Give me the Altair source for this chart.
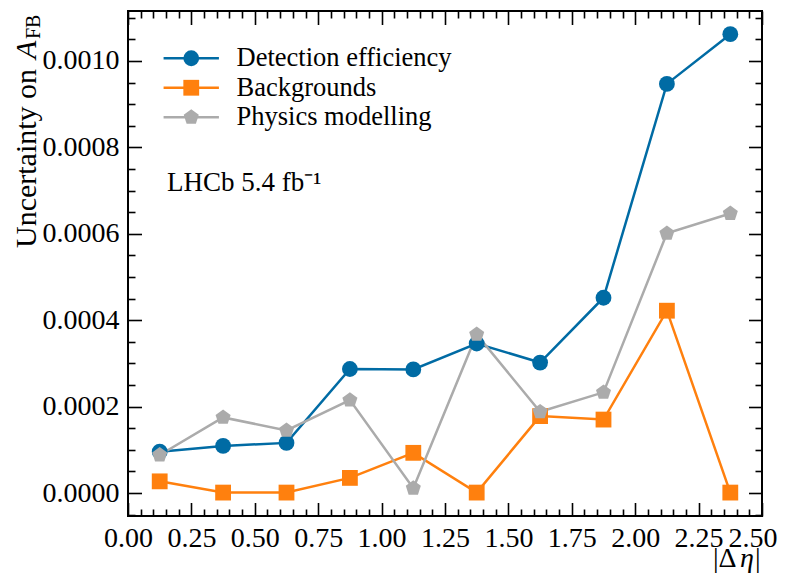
import altair as alt
import pandas as pd

# ---------------- data ----------------
x_centers = [0.125, 0.375, 0.625, 0.875, 1.125, 1.375, 1.625, 1.875, 2.125, 2.375]
series_names = ["Detection efficiency", "Backgrounds", "Physics modelling"]
det_eff = [0.0000956, 0.000109, 0.000116, 0.000287, 0.000286, 0.000346, 0.000302, 0.000452, 0.000947, 0.001062]
backgrounds = [0.000027, 0.000001, 0.000001, 0.000035, 0.000093, 0.000001, 0.000178, 0.000170, 0.000422, 0.000001]
physics = [0.000088, 0.000175, 0.000145, 0.000215, 0.000011, 0.000367, 0.000188, 0.000233, 0.000601, 0.000647]
colors = ["#006BA4", "#FF800E", "#ABABAB"]
pentagon = "M0,-1L0.951,-0.309L0.588,0.809L-0.588,0.809L-0.951,-0.309Z"
shapes = ["circle", "square", pentagon]

x_major = [0.0, 0.25, 0.5, 0.75, 1.0, 1.25, 1.5, 1.75, 2.0, 2.25, 2.5]
x_minor = [0.05, 0.1, 0.15, 0.2, 0.3, 0.35, 0.4, 0.45, 0.55, 0.6, 0.65, 0.7,
           0.8, 0.85, 0.9, 0.95, 1.05, 1.1, 1.15, 1.2, 1.3, 1.35, 1.4, 1.45,
           1.55, 1.6, 1.65, 1.7, 1.8, 1.85, 1.9, 1.95, 2.05, 2.1, 2.15, 2.2,
           2.3, 2.35, 2.4, 2.45]
y_major = [0.0, 0.0002, 0.0004, 0.0006, 0.0008, 0.0010]
y_minor = [-0.00005, 0.00005, 0.0001, 0.00015, 0.00025, 0.0003, 0.00035, 0.00045,
           0.0005, 0.00055, 0.00065, 0.0007, 0.00075, 0.00085, 0.0009, 0.00095,
           0.00105, 0.0011]

annotation = ["LHCb 5.4 fb\u207b\u00b9"]

rows = []
for name, vals in zip(series_names, [det_eff, backgrounds, physics]):
    for xv, yv in zip(x_centers, vals):
        rows.append({"x": xv, "y": yv, "series": name})
df = pd.DataFrame(rows)

# ---------------- layout ----------------
W, H = 634, 505
FONT = "Liberation Serif"
TICK_FS = 28
LEG_FS = 26.5

x_scale = alt.Scale(domain=[0, 2.5], nice=False, zero=False)
y_scale = alt.Scale(domain=[-0.0000532, 0.0011157], nice=False, zero=False)


def tick_axis(orient, offset, values, size):
    return alt.Axis(orient=orient, offset=offset, values=values, labels=False,
                    domain=False, grid=False, ticks=True, tickSize=size,
                    tickWidth=1.6, tickColor="black", title=None)


base = alt.Chart(df)

leg_common = dict(title=None, orient="none", legendX=50, legendY=34,
                  symbolSize=250, labelFont=FONT, labelFontSize=LEG_FS,
                  labelColor="black", labelOffset=32, rowPadding=2.5, padding=0,
                  labelLimit=0)

last_x = {"condition": {"test": "datum.value >= 2.5", "value": "right"}, "value": "center"}
last_off = {"condition": {"test": "datum.value >= 2.5", "value": 15}, "value": 0}

lines = base.mark_line(strokeWidth=2.5).encode(
    x=alt.X("x:Q", scale=x_scale,
            axis=alt.Axis(orient="bottom", values=x_major, format=".2f",
                          labelFont=FONT, labelFontSize=TICK_FS, labelColor="black",
                          labelPadding=8, ticks=False, tickSize=0, domain=False,
                          grid=False, labelFlush=False, labelOverlap=False,
                          labelAlign=last_x, labelOffset=last_off, title=None)),
    y=alt.Y("y:Q", scale=y_scale,
            axis=alt.Axis(orient="left", values=y_major, format=".4f",
                          labelFont=FONT, labelFontSize=TICK_FS, labelColor="black",
                          labelPadding=9, ticks=False, tickSize=0, domain=False,
                          grid=False, labelFlush=False, labelOverlap=False, title=None)),
    color=alt.Color("series:N", scale=alt.Scale(domain=series_names, range=colors),
                    legend=alt.Legend(symbolType="M-3.5,0L3.5,0", symbolStrokeWidth=2.5,
                                      **leg_common)),
)

pt_legend = alt.Legend(labelOpacity=0, symbolStrokeWidth=0, **leg_common)
points = base.mark_point(filled=True, size=250, opacity=1).encode(
    x=alt.X("x:Q", scale=x_scale, axis=tick_axis("top", -H, x_major, 13.5)),
    y=alt.Y("y:Q", scale=y_scale, axis=tick_axis("right", -W, y_major, 13.5)),
    color=alt.Color("series:N", scale=alt.Scale(domain=series_names, range=colors),
                    legend=pt_legend),
    shape=alt.Shape("series:N", scale=alt.Scale(domain=series_names, range=shapes),
                    legend=pt_legend),
)

t1 = base.mark_point(opacity=0).encode(
    x=alt.X("x:Q", scale=x_scale, axis=tick_axis("bottom", -H, x_major, 13.5)),
    y=alt.Y("y:Q", scale=y_scale, axis=tick_axis("left", -W, y_major, 13.5)),
)
t2 = base.mark_point(opacity=0).encode(
    x=alt.X("x:Q", scale=x_scale, axis=tick_axis("top", -H, x_minor, 7)),
    y=alt.Y("y:Q", scale=y_scale, axis=tick_axis("right", -W, y_minor, 7)),
)
t3 = base.mark_point(opacity=0).encode(
    x=alt.X("x:Q", scale=x_scale, axis=tick_axis("bottom", -H, x_minor, 7)),
    y=alt.Y("y:Q", scale=y_scale, axis=tick_axis("left", -W, y_minor, 7)),
)


def label(text, x, y, size, angle=0, style="normal", align="left"):
    src = alt.Chart(pd.DataFrame({"t": [text]}))
    kw = dict(align=align, baseline="alphabetic", font=FONT, fontSize=size,
              color="black", fontStyle=style)
    if angle:
        kw["angle"] = angle
    return src.mark_text(**kw).encode(text="t:N", x=alt.value(x), y=alt.value(y))


lhcb = label(annotation[0], 39, 180, 27)
yt1 = label("Uncertainty on", -92, 237, 30, angle=270)
yt2 = label("A", -92, 48, 30, angle=270, style="italic")
yt3 = label("FB", -88, 28, 20, angle=270)
xt1 = label("|\u0394", 585, 556, TICK_FS)
xt2 = label("\u03b7", 612, 556, TICK_FS, style="italic")
xt3 = label("|", 627, 556, TICK_FS)

chart = alt.layer(
    t1, t2, t3, lines, points, lhcb, yt1, yt2, yt3, xt1, xt2, xt3
).resolve_scale(
    color="independent", shape="independent"
).resolve_axis(
    x="independent", y="independent"
).properties(
    width=W, height=H,
    autosize=alt.AutoSizeParams(type="none"),
    padding={"left": 120, "top": 3, "right": 19, "bottom": 57},
).configure_view(
    stroke="black", strokeWidth=2
)

chart.save("out.html", embed_options={"renderer": "svg", "actions": False})
